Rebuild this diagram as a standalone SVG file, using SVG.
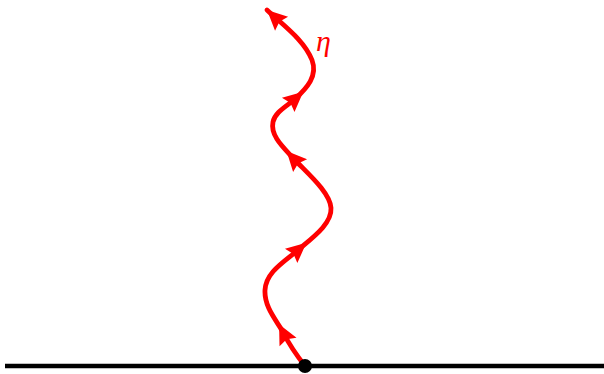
<svg xmlns="http://www.w3.org/2000/svg" width="604" height="374" viewBox="0 0 604 374">
<style>
.ln{fill:none;stroke:#ff0000;stroke-width:4.8;stroke-linecap:round;stroke-linejoin:round}
.base{stroke:#000;stroke-width:4.4}
.lbl{font-family:"Liberation Serif","DejaVu Serif",serif;font-style:italic;font-size:30px;fill:#ff0000}
</style>
<defs>
<marker id="amid" markerUnits="userSpaceOnUse" viewBox="-14 -12 28 24" markerWidth="28" markerHeight="24" refX="0" refY="0" orient="auto">
<path d="M11,0 L-9,-9.5 L-6,0 L-9,9.5 Z" fill="#ff0000"/>
</marker>
<marker id="aend" markerUnits="userSpaceOnUse" viewBox="-14 -12 28 24" markerWidth="28" markerHeight="24" refX="11" refY="0" orient="auto">
<path d="M11,0 L-9,-9.5 L-6,0 L-9,9.5 Z" fill="#ff0000"/>
</marker>
</defs>
<g id="baseline">
<line class="base" x1="5" y1="366" x2="604" y2="366"/>
</g>
<g id="connectors">
<path class="ln" marker-end="url(#amid)" d="M305,366 C298,357 290,346 284,334"/>
<path class="ln" marker-end="url(#amid)" d="M284,334 C278,322 264,308 265,290 C266,272 284,262 298,250"/>
<path class="ln" marker-end="url(#amid)" d="M298,250 C312,238 332,224 331,208 C330,192 306,172 294,159"/>
<path class="ln" marker-end="url(#amid)" d="M294,159 C284,148 270,136 273,122 C275,112 287,106 295,99"/>
<path class="ln" marker-end="url(#aend)" d="M295,99 C307,88 318,76 312,60 C304,40 284,26 267,10"/>
</g>
<g id="vertex">
<circle cx="305" cy="366" r="7" fill="#000"/>
</g>
<g id="label">
<text class="lbl" x="316" y="51">η</text>
</g>
</svg>
